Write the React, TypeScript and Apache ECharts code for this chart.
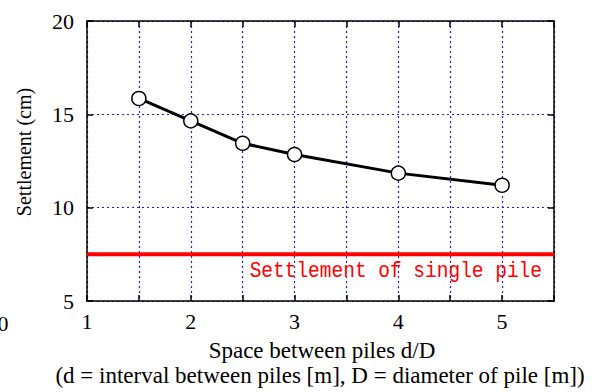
import React, { useEffect, useRef } from "react";
import * as echarts from "echarts";

const spacing = [1.5, 2, 2.5, 3, 4, 5];
const settlement = [15.85, 14.65, 13.45, 12.85, 11.85, 11.2];
const singlePile = 7.5;
const xRange = [1, 5.5];
const yRange = [5, 20];
const yTitle = "Settlement (cm)";
const xTitle1 = "Space between piles d/D";
const xTitle2 = "(d = interval between piles [m], D = diameter of pile [m])";
const refLabel = "Settlement of single pile";

const serif = "Liberation Serif";

export default function App() {
  const ref = useRef<HTMLDivElement>(null);
  useEffect(() => {
    const chart = echarts.init(ref.current!, null, { renderer: "svg" });
    const grid = { left: 87, top: 21, right: 41, bottom: 91 };
    const gridLine = { show: true, lineStyle: { color: "#1a1aff", type: [2, 3], width: 1.2 } };
    chart.setOption({
      animation: false,
      backgroundColor: "#ffffff",
      grid,
      xAxis: [
        {
          type: "value",
          min: xRange[0],
          max: xRange[1],
          interval: 0.5,
          axisLine: { onZero: false, lineStyle: { color: "#000", width: 1.5 } },
          axisTick: { inside: true, length: 6, lineStyle: { color: "#000", width: 1.5 } },
          axisLabel: {
            formatter: (v: number) => (Number.isInteger(v) ? String(v) : ""),
            fontFamily: serif,
            fontSize: 22,
            color: "#000",
            margin: 9,
          },
          splitLine: gridLine,
        },
        {
          type: "value",
          position: "top",
          min: xRange[0],
          max: xRange[1],
          interval: 0.5,
          axisLine: { onZero: false, lineStyle: { color: "#000", width: 1.5 } },
          axisTick: { inside: true, length: 6, lineStyle: { color: "#000", width: 1.5 } },
          axisLabel: { show: false },
          splitLine: { show: false },
        },
      ],
      yAxis: [
        {
          type: "value",
          min: yRange[0],
          max: yRange[1],
          interval: 5,
          axisLine: { show: true, onZero: false, lineStyle: { color: "#000", width: 1.5 } },
          axisTick: { show: true, inside: true, length: 6, lineStyle: { color: "#000", width: 1.5 } },
          axisLabel: { fontFamily: serif, fontSize: 22, color: "#000", margin: 13 },
          splitLine: gridLine,
        },
        {
          type: "value",
          position: "right",
          min: yRange[0],
          max: yRange[1],
          interval: 5,
          axisLine: { show: true, onZero: false, lineStyle: { color: "#000", width: 1.5 } },
          axisTick: { show: true, inside: true, length: 6, lineStyle: { color: "#000", width: 1.5 } },
          axisLabel: { show: false },
          splitLine: { show: false },
        },
      ],
      series: [
        {
          type: "line",
          data: [
            [xRange[0], singlePile],
            [xRange[1], singlePile],
          ],
          symbol: "none",
          lineStyle: { color: "#ff0000", width: 4 },
          z: 3,
        },
        {
          type: "line",
          data: spacing.map((x, i) => [x, settlement[i]]),
          symbol: "circle",
          symbolSize: 14,
          itemStyle: { color: "#ffffff", borderColor: "#000", borderWidth: 1.5 },
          lineStyle: { color: "#000", width: 3 },
          z: 4,
        },
      ],
      graphic: [
        {
          type: "text",
          x: 24,
          y: 152,
          rotation: Math.PI / 2,
          style: {
            text: yTitle,
            fontFamily: serif,
            fontSize: 20,
            fill: "#000",
            align: "center",
            verticalAlign: "middle",
          },
        },
        {
          type: "text",
          x: 322,
          y: 350,
          style: {
            text: xTitle1,
            fontFamily: serif,
            fontSize: 23,
            fill: "#000",
            align: "center",
            verticalAlign: "middle",
          },
        },
        {
          type: "text",
          x: 320,
          y: 375,
          style: {
            text: xTitle2,
            fontFamily: serif,
            fontSize: 23,
            fill: "#000",
            align: "center",
            verticalAlign: "middle",
          },
        },
        {
          type: "text",
          x: 3,
          y: 323,
          style: {
            text: "0",
            fontFamily: serif,
            fontSize: 22,
            fill: "#000",
            align: "center",
            verticalAlign: "middle",
          },
        },
        {
          type: "text",
          x: 542,
          y: 271,
          scaleY: 1.15,
          style: {
            text: refLabel,
            fontFamily: "Liberation Mono",
            fontSize: 19.5,
            fill: "#ff0000",
            align: "right",
            verticalAlign: "middle",
          },
          z: 10,
        },
      ],
    });
    return () => chart.dispose();
  }, []);
  return <div ref={ref} style={{ width: 595, height: 392, position: "absolute", left: 0, top: 0 }} />;
}
